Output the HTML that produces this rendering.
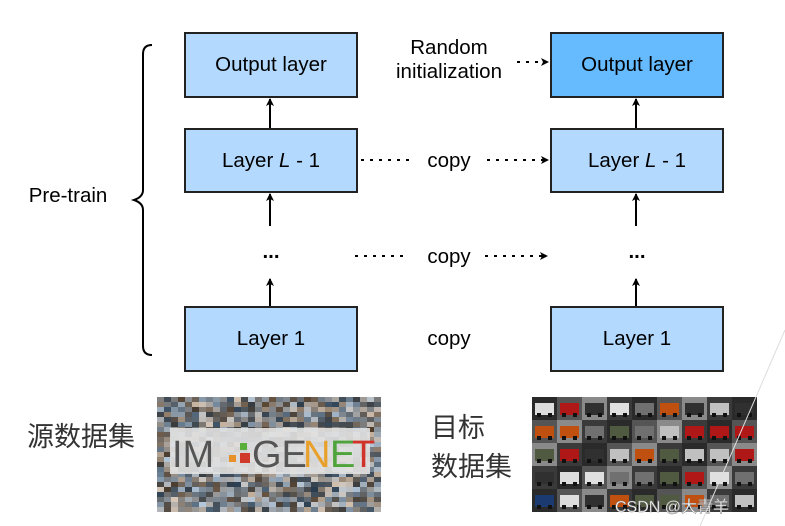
<!DOCTYPE html>
<html><head><meta charset="utf-8"><style>
html,body{margin:0;padding:0;background:#fff;}
svg{display:block;font-family:"Liberation Sans",Arial,sans-serif;}
.cjk{font-family:"Liberation Sans","Noto Sans CJK SC",sans-serif;}
</style></head><body>
<svg id="s" width="785" height="526" viewBox="0 0 785 526" xmlns="http://www.w3.org/2000/svg">
<defs>
<marker id="a" markerWidth="8" markerHeight="8" refX="7" refY="4" orient="auto" markerUnits="userSpaceOnUse"><path d="M0,0 L8,4 L0,8 L2,4 z" fill="#000"/></marker>
</defs>
<g stroke="#222" stroke-width="2">
<rect x="185" y="33" width="172" height="64" fill="#b3d9ff"/>
<rect x="185" y="129" width="172" height="63" fill="#b3d9ff"/>
<rect x="185" y="307" width="172" height="64" fill="#b3d9ff"/>
<rect x="551" y="33" width="172" height="64" fill="#66bbff"/>
<rect x="551" y="129" width="172" height="63" fill="#b3d9ff"/>
<rect x="551" y="307" width="172" height="64" fill="#b3d9ff"/>
</g>
<g stroke="#000" stroke-width="2" fill="none">
<line x1="270" y1="128" x2="270" y2="99" marker-end="url(#a)"/>
<line x1="270" y1="226" x2="270" y2="194" marker-end="url(#a)"/>
<line x1="270" y1="306" x2="270" y2="279" marker-end="url(#a)"/>
<line x1="636" y1="128" x2="636" y2="99" marker-end="url(#a)"/>
<line x1="636" y1="226" x2="636" y2="194" marker-end="url(#a)"/>
<line x1="636" y1="306" x2="636" y2="279" marker-end="url(#a)"/>
</g>
<g stroke="#000" stroke-width="2" stroke-dasharray="3,6" fill="none">
<line x1="361" y1="160" x2="410" y2="160"/>
<line x1="487" y1="160" x2="548" y2="160" marker-end="url(#a)"/>
<line x1="355" y1="256" x2="408" y2="256"/>
<line x1="485" y1="256" x2="547" y2="256" marker-end="url(#a)"/>
<line x1="517" y1="62" x2="548" y2="62" marker-end="url(#a)"/>
</g>
<path d="M152,45 Q143,45 143,54 L143,190 Q143,197 134,200 Q143,203 143,210 L143,346 Q143,355 152,355" stroke="#000" stroke-width="2" fill="none"/>
<g font-size="20.5" fill="#000" text-anchor="middle">
<text x="271" y="71">Output layer</text>
<text x="637" y="71">Output layer</text>
<text x="271" y="167">Layer <tspan font-style="italic">L</tspan> - 1</text>
<text x="637" y="167">Layer <tspan font-style="italic">L</tspan> - 1</text>
<text x="271" y="345">Layer 1</text>
<text x="637" y="345">Layer 1</text>
<text x="449" y="54">Random</text>
<text x="449" y="78">initialization</text>
<text x="449" y="167">copy</text>
<text x="449" y="263">copy</text>
<text x="449" y="345">copy</text>
<text x="271" y="258" font-weight="bold">...</text>
<text x="637" y="258" font-weight="bold">...</text>
<text x="68" y="202" text-anchor="middle">Pre-train</text>
</g>
<g class="cjk" font-size="27" fill="#333">
<text x="27" y="446">源数据集</text>
<text x="431" y="437">目标</text>
<text x="431" y="476">数据集</text>
</g>
<g id="img1"></g>
<g id="img2"></g>
<rect x="170" y="428" width="200" height="46" fill="#e2e2e2" opacity="0.9"/>
<g font-size="38">
<text x="172" y="467" fill="#555">IM</text>
<rect x="229" y="455" width="7" height="7" fill="#e8902a"/>
<rect x="240" y="443" width="7" height="7" fill="#5aae3a"/>
<rect x="240" y="453" width="10" height="10" fill="#d03a2a"/>
<text x="252" y="467" fill="#555">GE</text>
<text x="303" y="467" fill="#e8a02a">N</text>
<text x="330" y="467" fill="#4ea33a">E</text>
<text x="345" y="467" fill="#d0332a" font-size="38"> </text>
<text x="352" y="467" fill="#d0332a">T</text>
</g>
<text x="615" y="512" font-size="16" fill="#fff" stroke="#888" stroke-width="0.5" class="cjk">CSDN @大青羊</text>
<line x1="700" y1="526" x2="785" y2="330" stroke="#ddd" stroke-width="1"/>
</svg>
<script>
var ns="http://www.w3.org/2000/svg";
var seed=7;function r(){seed=(seed*9301+49297)%233280;return seed/233280;}
function rect(g,x,y,w,h,c){var e=document.createElementNS(ns,"rect");e.setAttribute("x",x);e.setAttribute("y",y);e.setAttribute("width",w);e.setAttribute("height",h);e.setAttribute("fill",c);g.appendChild(e);}
var g1=document.getElementById("img1");
for(var y=397;y<510;y+=5)for(var x=157;x<380;x+=7){var v=60+Math.floor(r()*140);var t=Math.floor(r()*40)-20;rect(g1,x,y,7,5,"rgb("+(v+t)+","+v+","+(v-t)+")");}
var g2=document.getElementById("img2");
var cols=["#b01818","#d8c020","#e0e0e0","#303030","#707070","#c0c0c0","#1a3a70","#c05010","#505a40","#ddd"];
for(var j=0;j<5;j++)for(var i=0;i<9;i++){var x=532+i*25,y=397+j*23;rect(g2,x,y,25,23,"#"+["2a2a2a","555","8a8a8a","3a3a3a"][(i+j)%4]);rect(g2,x+3,y+6,19,12,cols[Math.floor(r()*cols.length)]);rect(g2,x+5,y+16,4,4,"#111");rect(g2,x+16,y+16,4,4,"#111");}
</script>
</body></html>
